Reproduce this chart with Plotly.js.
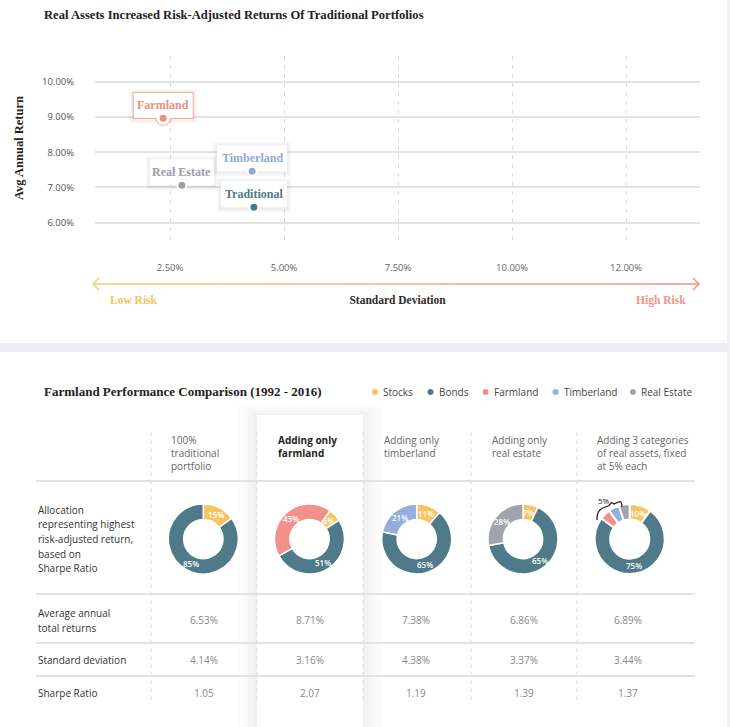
<!DOCTYPE html>
<html><head><meta charset="utf-8">
<script src="https://cdn.plot.ly/plotly-3.0.1.min.js"></script>
<style>html,body{margin:0;padding:0;background:#fff}#chart{width:730px;height:727px}</style>
</head><body><div id="chart"></div>
<script>
// ---------------- DATA: risk / return scatter ----------------
const assetNames = ['Farmland', 'Real Estate', 'Timberland', 'Traditional'];
const stdDev = [2.35, 2.76, 4.30, 4.34];
const avgReturn = [8.96, 7.06, 7.46, 6.44];
const xTickVals = [2.5, 5, 7.5, 10, 12.5];
const xTickText = ['2.50%', '5.00%', '7.50%', '10.00%', '12.00%'];
const yTickVals = [6, 7, 8, 9, 10];
const yTickText = ['6.00%', '7.00%', '8.00%', '9.00%', '10.00%'];

// ---------------- DATA: performance comparison ----------------
const assetClasses = ['Stocks', 'Bonds', 'Farmland', 'Timberland', 'Real Estate'];
const portfolios = ['100%\ntraditional\nportfolio', 'Adding only\nfarmland', 'Adding only\ntimberland',
                    'Adding only\nreal estate', 'Adding 3 categories\nof real assets, fixed\nat 5% each'];
const allocStocks     = [15,  6, 11,  7, 10];
const allocBonds      = [85, 51, 65, 65, 75];
const allocFarmland   = [ 0, 43,  0,  0,  5];
const allocTimberland = [ 0,  0, 21,  0,  5];
const allocRealEstate = [ 0,  0,  0, 28,  5];
const rowLabels = ['Allocation\nrepresenting highest\nrisk-adjusted return,\nbased on\nSharpe Ratio',
                   'Average annual\ntotal returns', 'Standard deviation', 'Sharpe Ratio'];
const avgAnnualReturns = ['6.53%', '8.71%', '7.38%', '6.86%', '6.89%'];
const stdDeviations    = ['4.14%', '3.16%', '4.38%', '3.37%', '3.44%'];
const sharpeRatios     = ['1.05', '2.07', '1.19', '1.39', '1.37'];

// ---------------- STYLE ----------------
const W = 730, H = 727;
const px = x => x / W, py = y => 1 - y / H;
const SANS = '"Open Sans", "DejaVu Sans", sans-serif';
const SERIF = '"Liberation Serif", "DejaVu Serif", serif';
const scatterColors = ['#EF8E80', '#9C9EA9', '#93A9D6', '#4C7A86'];
const assetColors = ['#F8C462', '#4F7A89', '#F2918A', '#94AEDD', '#A1A3AE'];
const boxHalfW = [30, 32, 35, 33];
const boxH = 26;

const shapes = [], annotations = [], traces = [];

function txt(x, y, text, font, opt) {
  annotations.push(Object.assign({xref: 'paper', yref: 'paper', x: px(x), y: py(y), text: text,
    showarrow: false, xanchor: 'left', yanchor: 'middle', font: font}, opt || {}));
}
function rectP(x0, y0, x1, y1, fill, extra) {
  shapes.push(Object.assign({type: 'rect', xref: 'paper', yref: 'paper', x0: px(x0), x1: px(x1),
    y0: py(y1), y1: py(y0), fillcolor: fill, line: {width: 0}, layer: 'below'}, extra || {}));
}
function lineP(x0, y0, x1, y1, color, width, dash) {
  shapes.push({type: 'line', xref: 'paper', yref: 'paper', x0: px(x0), x1: px(x1), y0: py(y0), y1: py(y1),
    line: {color: color, width: width, dash: dash || 'solid'}, layer: 'below'});
}
function pathP(pts, color, width) {
  const d = pts.map((p, i) => (i ? 'L' : 'M') + px(p[0]) + ',' + py(p[1])).join(' ');
  shapes.push({type: 'path', xref: 'paper', yref: 'paper', path: d, line: {color: color, width: width}, layer: 'above'});
}

// ---------------- page background cards ----------------
rectP(0, 340, W, 343, 'rgba(0,0,0,0.025)');
rectP(0, 343, W, 352, '#EEEFF3');
rectP(727, 0, W, H, '#F1F1F4');
// highlighted column card with soft shadow
[18, 13, 9, 5, 2].forEach(e => rectP(257 - e, 415 - e * 0.6, 363 + e, H, 'rgba(0,0,0,0.012)'));
rectP(257, 415, 363, H, '#FFFFFF');

// ---------------- top chart: label boxes ----------------
stdDev.forEach((xv, i) => {
  const hw = boxHalfW[i];
  const base = {type: 'rect', xref: 'x', yref: 'y', xsizemode: 'pixel', ysizemode: 'pixel',
                xanchor: xv, yanchor: avgReturn[i], layer: 'between'};
  [4, 2].forEach(e => shapes.push(Object.assign({}, base, {x0: -hw - e, x1: hw + e, y0: -e - 1, y1: boxH + e - 1,
    fillcolor: 'rgba(0,0,0,0.03)', line: {width: 0}})));
  shapes.push(Object.assign({}, base, {x0: -hw, x1: hw, y0: 0, y1: boxH, fillcolor: '#FFFFFF',
    line: i === 0 ? {color: 'rgba(239,142,128,0.75)', width: 1} : {width: 0}}));
  if (i === 0) {
    shapes.push({type: 'path', xref: 'x', yref: 'y', xsizemode: 'pixel', ysizemode: 'pixel',
      xanchor: xv, yanchor: avgReturn[i], layer: 'between',
      path: 'M -7,0 C -7,-9.3 7,-9.3 7,0', fillcolor: '#FFFFFF', line: {color: 'rgba(239,142,128,0.75)', width: 1}});
    shapes.push({type: 'line', xref: 'x', yref: 'y', xsizemode: 'pixel', ysizemode: 'pixel',
      xanchor: xv, yanchor: avgReturn[i], layer: 'between', x0: -6.4, x1: 6.4, y0: 0, y1: 0,
      line: {color: '#FFFFFF', width: 2}});
  }
  annotations.push({xref: 'x', yref: 'y', x: xv, y: avgReturn[i], yshift: boxH / 2, showarrow: false,
    text: '<b>' + assetNames[i] + '</b>', xanchor: 'center', yanchor: 'middle',
    font: {family: SERIF, size: 12, color: scatterColors[i]}});
});

traces.push({type: 'scatter', mode: 'markers', x: stdDev, y: avgReturn, text: assetNames,
  marker: {size: 9, color: scatterColors, line: {color: '#FFFFFF', width: 2}},
  hoverinfo: 'none', cliponaxis: false, showlegend: false});

// titles
txt(42, 15, '<b>Real Assets Increased Risk-Adjusted Returns Of Traditional Portfolios</b>',
    {family: SERIF, size: 12.6, color: '#222'});

// risk arrow with gradient
const aX0 = 93, aX1 = 699, aY = 284, N = 60;
const c0 = [249, 201, 112], c1 = [241, 146, 135];
const mix = t => 'rgb(' + c0.map((v, k) => Math.round(v + (c1[k] - v) * t)).join(',') + ')';
for (let i = 0; i < N; i++) {
  const xa = aX0 + (aX1 - aX0) * i / N, xb = aX0 + (aX1 - aX0) * (i + 1) / N + 0.6;
  lineP(xa, aY, Math.min(xb, aX1), aY, mix((i + 0.5) / N), 1.5);
}
pathP([[99, 278], [93, 284], [99, 290]], mix(0), 1.5);
pathP([[693, 278], [699, 284], [693, 290]], mix(1), 1.5);
txt(108, 300, '<b>Low Risk</b>', {family: SERIF, size: 11.5, color: '#F8C266'});
txt(688, 300, '<b>High Risk</b>', {family: SERIF, size: 11.5, color: '#F1958A'}, {xanchor: 'right'});

// ---------------- bottom section ----------------
txt(42, 391, '<b>Farmland Performance Comparison (1992 - 2016)</b>', {family: SERIF, size: 13, color: '#222'});
const legendX = [375, 430.5, 485.5, 555.5, 633];
assetClasses.forEach((a, k) => {
  shapes.push({type: 'circle', xref: 'paper', yref: 'paper', x0: px(legendX[k] - 3), x1: px(legendX[k] + 3),
    y0: py(392 + 3), y1: py(392 - 3), fillcolor: assetColors[k], line: {width: 0}, layer: 'above'});
  txt(legendX[k] + 6, 392, a, {family: SANS, size: 10, color: '#444'});
});

// table grid
[151, 257, 363, 471, 577].forEach(x => lineP(x, 432, x, 700, '#D9D9D9', 1, '4px,4px'));
[481, 594, 643, 676].forEach(y => lineP(36, y, 695, y, '#E3E3E3', 2));

// column headers (multi-line)
const headerX = [169, 276, 382, 490, 595];
portfolios.forEach((p, j) => {
  const t = p.split('\n').map(l => j === 1 ? '<b>' + l + '</b>' : l).join('<br>');
  txt(headerX[j], 431, t, {family: SANS, size: 10, color: j === 1 ? '#222' : '#666'},
      {yanchor: 'top', align: 'left'});
});

// row labels
const rowY = [509.5, 613, 660, 693];
rowLabels.forEach((r, i) => {
  r.split('\n').forEach((line, l) => txt(36, rowY[i] + l * 14.7, line, {family: SANS, size: 10, color: '#333'}));
});

// values
const colCX = [204, 309.5, 416, 524, 628];
[[avgAnnualReturns, 620], [stdDeviations, 660], [sharpeRatios, 693]].forEach(([arr, y]) => {
  arr.forEach((v, j) => txt(colCX[j], y, v, {family: SANS, size: 10, color: '#888'}, {xanchor: 'center'}));
});

// donuts
const alloc = [allocStocks, allocBonds, allocFarmland, allocTimberland, allocRealEstate];
const pieCX = [203.3, 309.5, 416.7, 523, 629.7], pieCY = 539, pieR = 35, pieHole = 0.56;
const pieRotation = [0, 36, 0, 0, 0];
portfolios.forEach((p, j) => {
  const labels = [], values = [], colors = [];
  assetClasses.forEach((a, k) => {
    const v = alloc[k][j];
    if (v > 0) { labels.push(a); values.push(v); colors.push(assetColors[k]); }
  });
  traces.push({type: 'pie', labels: labels, values: values, textinfo: 'none', sort: false, direction: 'clockwise',
    rotation: pieRotation[j], hole: pieHole,
    marker: {colors: colors, line: {color: '#FFFFFF', width: j === 4 ? 2 : 1.5}},
    domain: {x: [px(pieCX[j] - pieR), px(pieCX[j] + pieR)], y: [py(pieCY + pieR), py(pieCY - pieR)]},
    hoverinfo: 'none', showlegend: false});
  // slice value labels at each slice's mid angle (clockwise from 12 o'clock)
  const total = values.reduce((a, b) => a + b, 0);
  const rm = pieR * (1 + pieHole) / 2;
  let cum = 0;
  values.forEach(v => {
    const ang = (pieRotation[j] + 360 * (cum + v / 2) / total) * Math.PI / 180;
    cum += v;
    if (v < 6) return;
    txt(pieCX[j] + rm * Math.sin(ang), pieCY - rm * Math.cos(ang), v + '%',
        {family: SANS, size: 8, color: '#FFFFFF', weight: 600}, {xanchor: 'center'});
  });
});
// bracket for the three 5% slices
shapes.push({type: 'path', xref: 'paper', yref: 'paper', layer: 'above', line: {color: '#222', width: 1.3},
  path: 'M' + px(597) + ',' + py(520) + ' Q' + px(596.5) + ',' + py(510) + ' ' + px(604) + ',' + py(507.5) +
        ' L' + px(609) + ',' + py(505.5) + ' L' + px(611.5) + ',' + py(502.5) + ' L' + px(614) + ',' + py(504) +
        ' L' + px(618.5) + ',' + py(502) + ' Q' + px(622) + ',' + py(500.5) + ' ' + px(622) + ',' + py(507)});
txt(604, 500, '5%', {family: SANS, size: 8, color: '#222'}, {xanchor: 'center'});

const layout = {
  width: W, height: H, margin: {l: 0, r: 0, t: 0, b: 0},
  paper_bgcolor: '#FFFFFF', plot_bgcolor: 'rgba(0,0,0,0)', showlegend: false,
  font: {family: SANS, size: 10, color: '#555'},
  xaxis: {domain: [px(95), px(700)], range: [0.855, 14.12], tickvals: xTickVals, ticktext: xTickText,
    showgrid: true, gridcolor: '#D9D9D9', griddash: '4px,5px', gridwidth: 1, zeroline: false, showline: false,
    ticks: 'outside', ticklen: 19, tickcolor: 'rgba(0,0,0,0)', tickfont: {family: SANS, size: 9.5, color: '#666'},
    fixedrange: true,
    title: {text: '<b>Standard Deviation</b>', standoff: 22, font: {family: SERIF, size: 11.5, color: '#2B2B2B'}}},
  yaxis: {domain: [py(240), py(56)], range: [5.508, 10.73], tickvals: yTickVals, ticktext: yTickText,
    showgrid: true, gridcolor: '#E3E3E3', gridwidth: 2, zeroline: false, showline: false,
    ticks: 'outside', ticklen: 18, tickcolor: 'rgba(0,0,0,0)', tickfont: {family: SANS, size: 9.5, color: '#555'},
    fixedrange: true,
    title: {text: '<b>Avg Annual Return</b>', standoff: 15, font: {family: SERIF, size: 12.5, color: '#222'}}},
  shapes: shapes, annotations: annotations
};
Plotly.newPlot('chart', traces, layout, {displayModeBar: false, staticPlot: true});
</script></body></html>
